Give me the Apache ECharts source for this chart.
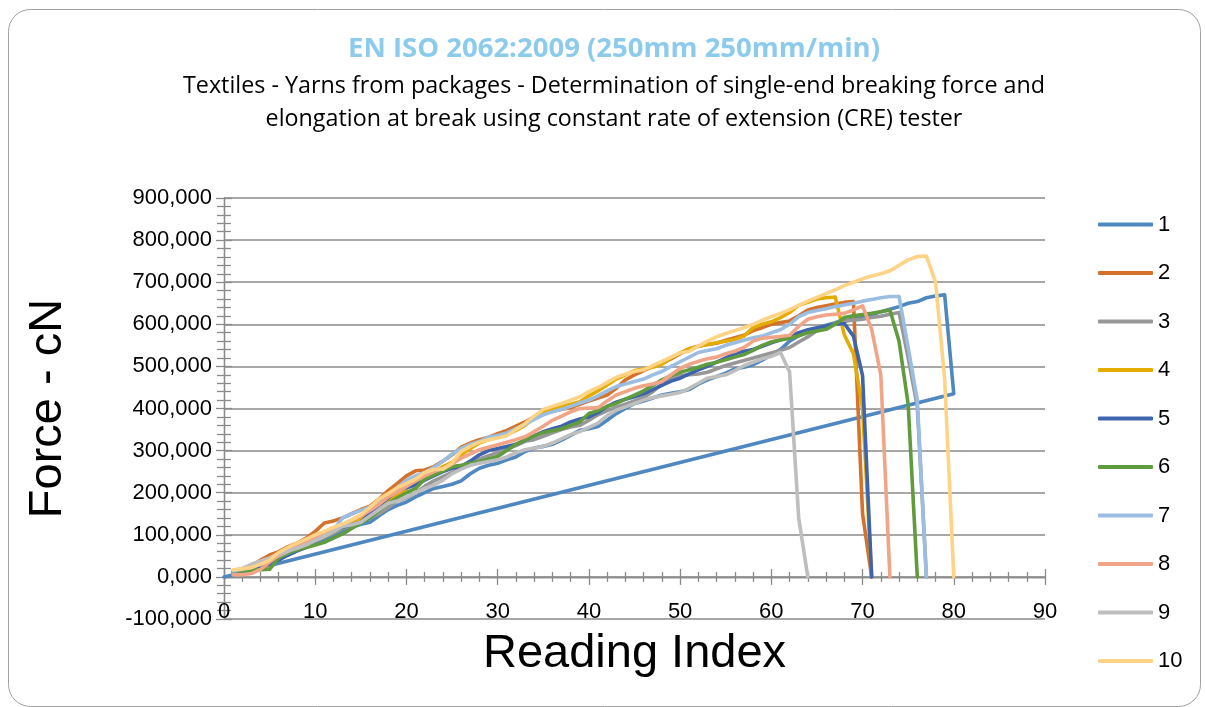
<!DOCTYPE html>
<html>
<head>
<meta charset="utf-8">
<title>EN ISO 2062:2009</title>
<script src="https://cdn.jsdelivr.net/npm/echarts@6/dist/echarts.min.js"></script>
<style>
  html, body { margin: 0; padding: 0; background: #fff; }
  #main { width: 1205px; height: 707px; }
</style>
</head>
<body>
<div id="main"></div>
<script>
// readings start at index 1; force values in cN
var seriesNames = ['1', '2', '3', '4', '5', '6', '7', '8', '9', '10'];
var seriesColors = ['#4f87c0', '#d4712b', '#979797', '#e4ab00', '#3d64ad', '#609c3e', '#9bbde2', '#f1a586', '#bebebe', '#fed385'];

var s1 = [10, 13, 18, 22, 30, 42, 52, 62, 70, 80, 88, 98, 108, 118, 125, 130, 145, 160, 170, 178,
  190, 200, 210, 215, 220, 228, 245, 258, 265, 270, 278, 285, 298, 306, 310, 315, 325, 336, 348, 352,
  357, 372, 388, 400, 412, 418, 425, 432, 436, 440, 445, 458, 468, 476, 484, 494, 498, 504, 515, 528,
  540, 560, 573, 582, 590, 598, 604, 608, 612, 616, 622, 630, 636, 642, 650, 654, 663, 667, 670, 435];
var s1Return = [0, 0]; // the recorded curve closes back on the origin
var s2 = [13, 18, 25, 40, 52, 60, 72, 80, 92, 108, 128, 133, 140, 150, 160, 168, 185, 205, 222, 240,
  252, 254, 262, 275, 290, 308, 318, 326, 332, 340, 348, 358, 368, 380, 390, 394, 398, 402, 410, 418,
  425, 432, 448, 468, 480, 490, 500, 507, 518, 530, 542, 548, 552, 555, 562, 568, 574, 585, 592, 600,
  604, 608, 620, 634, 640, 644, 648, 652, 654, 150, 0];
var s3 = [14, 18, 25, 30, 38, 50, 58, 66, 74, 85, 95, 104, 115, 122, 130, 140, 150, 165, 180, 188,
  200, 215, 228, 238, 248, 260, 272, 280, 288, 295, 304, 312, 322, 326, 334, 342, 350, 356, 360, 372,
  385, 395, 403, 410, 418, 426, 440, 458, 472, 478, 480, 482, 486, 494, 502, 508, 514, 520, 526, 532,
  538, 545, 558, 570, 585, 596, 602, 607, 610, 612, 616, 619, 624, 628, 520, 405, 0];
var s4 = [12, 15, 20, 24, 28, 46, 55, 66, 78, 88, 96, 108, 118, 128, 140, 150, 165, 180, 195, 210,
  225, 240, 250, 262, 272, 290, 305, 318, 326, 332, 338, 348, 360, 378, 392, 400, 405, 410, 416, 430,
  442, 456, 470, 480, 490, 494, 498, 505, 520, 532, 542, 548, 552, 556, 560, 564, 572, 592, 600, 606,
  616, 628, 645, 652, 660, 663, 665, 575, 530, 400, 0];
var s5 = [13, 16, 20, 25, 30, 40, 52, 62, 70, 85, 100, 110, 118, 124, 130, 150, 170, 188, 205, 212,
  218, 230, 240, 250, 258, 262, 275, 290, 300, 305, 310, 315, 325, 335, 345, 352, 358, 368, 375, 380,
  390, 405, 415, 422, 428, 435, 445, 455, 465, 472, 482, 492, 500, 510, 520, 530, 536, 540, 548, 556,
  563, 570, 580, 587, 592, 596, 600, 602, 572, 478, 0];
var s6 = [14, 15, 16, 17, 18, 45, 56, 64, 70, 76, 82, 92, 102, 115, 128, 140, 158, 175, 188, 200,
  210, 232, 242, 252, 262, 265, 270, 274, 280, 286, 300, 315, 325, 335, 343, 347, 352, 360, 368, 388,
  395, 405, 412, 422, 432, 442, 455, 468, 478, 486, 492, 498, 505, 510, 516, 522, 528, 538, 550, 558,
  563, 567, 573, 580, 584, 588, 600, 616, 620, 623, 626, 630, 634, 560, 410, 0];
var s7 = [14, 18, 25, 35, 42, 50, 60, 70, 80, 92, 100, 112, 140, 150, 158, 166, 178, 195, 212, 230,
  240, 248, 260, 275, 292, 305, 315, 322, 332, 336, 342, 352, 362, 374, 385, 392, 398, 405, 413, 420,
  430, 442, 452, 458, 464, 470, 480, 488, 500, 511, 522, 533, 538, 542, 550, 556, 562, 568, 572, 580,
  587, 600, 618, 628, 633, 637, 642, 646, 650, 655, 659, 663, 666, 666, 545, 420, 0];
var s8 = [5, 5, 8, 18, 35, 52, 62, 72, 84, 95, 105, 115, 125, 135, 145, 158, 172, 190, 202, 215,
  228, 240, 250, 258, 268, 282, 292, 302, 308, 314, 320, 326, 333, 345, 358, 372, 382, 392, 400, 401,
  402, 418, 432, 440, 448, 454, 458, 464, 480, 495, 505, 512, 518, 522, 530, 536, 545, 560, 567, 569,
  571, 574, 595, 612, 618, 622, 624, 626, 634, 644, 588, 480, 0];
var s9 = [15, 20, 30, 38, 45, 55, 62, 68, 76, 86, 96, 108, 120, 124, 130, 145, 160, 175, 180, 190,
  200, 210, 218, 230, 245, 256, 265, 270, 274, 278, 285, 295, 302, 306, 310, 318, 328, 338, 345, 355,
  365, 383, 396, 404, 412, 420, 426, 430, 434, 438, 448, 460, 472, 476, 480, 490, 502, 510, 518, 524,
  533, 487, 140, 0];
var s10 = [17, 19, 22, 30, 40, 58, 70, 80, 90, 100, 108, 118, 126, 135, 148, 165, 185, 198, 212, 222,
  232, 248, 255, 256, 270, 298, 310, 320, 326, 330, 335, 350, 364, 382, 398, 405, 412, 420, 428, 440,
  450, 462, 474, 482, 488, 492, 502, 512, 522, 532, 536, 548, 560, 570, 578, 585, 592, 600, 610, 618,
  626, 635, 645, 655, 664, 673, 682, 692, 700, 708, 715, 720, 727, 740, 753, 761, 762, 700, 470, 0];

var xTicks = { min: 0, max: 90, interval: 10 };
var yTicks = { min: -100, max: 900, interval: 100 };

var allValues = [s1, s2, s3, s4, s5, s6, s7, s8, s9, s10];

function toPoints(vals) {
  var pts = vals.map(function (v, i) { return [i + 1, v]; });
  return pts;
}

var myChart = echarts.init(document.getElementById('main'));

var seriesList = allValues.map(function (vals, k) {
  var pts = toPoints(vals);
  if (k === 0) pts.push(s1Return);
  return {
    name: seriesNames[k],
    type: 'line',
    data: pts,
    symbol: 'none',
    color: seriesColors[k],
    lineStyle: { width: 3.6, color: seriesColors[k], cap: 'round', join: 'round' },
    animation: false
  };
});

var axisGray = '#8a8a8a';
var yFmt = function (v) { return v.toFixed(3).replace('.', ','); };

// the labelled x axis sits on the grid bottom; two unlabelled copies draw the
// zero line with ticks crossing it (one set outside, one inside)
function zeroXAxis(inside) {
  return {
    type: 'value',
    position: 'bottom',
    min: xTicks.min, max: xTicks.max, interval: xTicks.interval,
    axisLine: { onZero: true, onZeroAxisIndex: 0, lineStyle: { color: axisGray, width: 1.3 } },
    axisTick: { show: true, inside: inside, length: 8, lineStyle: { color: axisGray, width: 1.3 } },
    minorTick: { show: true, splitNumber: 5, length: 5, lineStyle: { color: axisGray, width: 1.3 } },
    axisLabel: { show: false },
    splitLine: { show: false }
  };
}

option = {
  animation: false,
  title: {
    text: 'EN ISO 2062:2009 (250mm 250mm/min)',
    subtext: 'Textiles - Yarns from packages - Determination of single-end breaking force and\nelongation at break using constant rate of extension (CRE) tester',
    left: 609,
    top: 30,
    textAlign: 'center',
    itemGap: 7,
    textStyle: { fontFamily: 'Open Sans', fontSize: 27.5, fontWeight: 'bold', color: '#8ccbeb' },
    subtextStyle: { fontFamily: 'Open Sans', fontSize: 23.3, color: '#000', lineHeight: 33 }
  },
  legend: {
    orient: 'vertical',
    left: 1093,
    top: 208.5,
    icon: 'roundRect',
    itemWidth: 55,
    itemHeight: 4,
    itemGap: 26.5,
    data: seriesNames,
    textStyle: { fontFamily: 'Liberation Sans', fontSize: 22, color: '#000' }
  },
  grid: { left: 224, right: 160, top: 198, bottom: 88, outerBoundsMode: 'none', containLabel: false },
  xAxis: [{
    type: 'value',
    position: 'bottom',
    min: xTicks.min, max: xTicks.max, interval: xTicks.interval,
    name: 'Reading Index',
    nameLocation: 'middle',
    nameGap: 12,
    nameMoveOverlap: false,
    nameTextStyle: { fontFamily: 'Liberation Sans', fontSize: 47, color: '#000' },
    axisLine: { show: false, onZero: false },
    axisTick: { show: false },
    axisLabel: { fontFamily: 'Liberation Sans', fontSize: 22, color: '#000', margin: -18 },
    splitLine: { show: false }
  }, zeroXAxis(true), zeroXAxis(false)],
  yAxis: [{
    type: 'value',
    min: yTicks.min, max: yTicks.max, interval: yTicks.interval,
    name: 'Force - cN',
    nameLocation: 'middle',
    nameGap: 152,
    nameRotate: 90,
    nameTextStyle: { fontFamily: 'Liberation Sans', fontSize: 47, color: '#000' },
    axisLine: { show: true, onZero: false, lineStyle: { color: axisGray, width: 1.3 } },
    axisTick: { show: true, inside: false, length: 8, lineStyle: { color: axisGray, width: 1.3 } },
    minorTick: { show: true, splitNumber: 5, length: 7, lineStyle: { color: axisGray, width: 1.3 } },
    axisLabel: { fontFamily: 'Liberation Sans', fontSize: 22, color: '#000', margin: 12, formatter: yFmt },
    splitLine: { show: true, lineStyle: { color: axisGray, width: 1.5 } }
  }, {
    type: 'value',
    position: 'left',
    min: yTicks.min, max: yTicks.max, interval: yTicks.interval,
    axisLine: { show: true, onZero: false, lineStyle: { color: axisGray, width: 1.3 } },
    axisTick: { show: true, inside: true, length: 8, lineStyle: { color: axisGray, width: 1.3 } },
    minorTick: { show: true, splitNumber: 5, length: 7, lineStyle: { color: axisGray, width: 1.3 } },
    axisLabel: { show: false },
    splitLine: { show: false }
  }],
  graphic: [{
    type: 'rect',
    silent: true,
    z: -10,
    shape: { x: 8.5, y: 9.5, width: 1192, height: 697, r: 22 },
    style: { fill: 'none', stroke: '#a0a0a0', lineWidth: 1 }
  }],
  series: seriesList
};

myChart.setOption(option);
</script>
</body>
</html>
